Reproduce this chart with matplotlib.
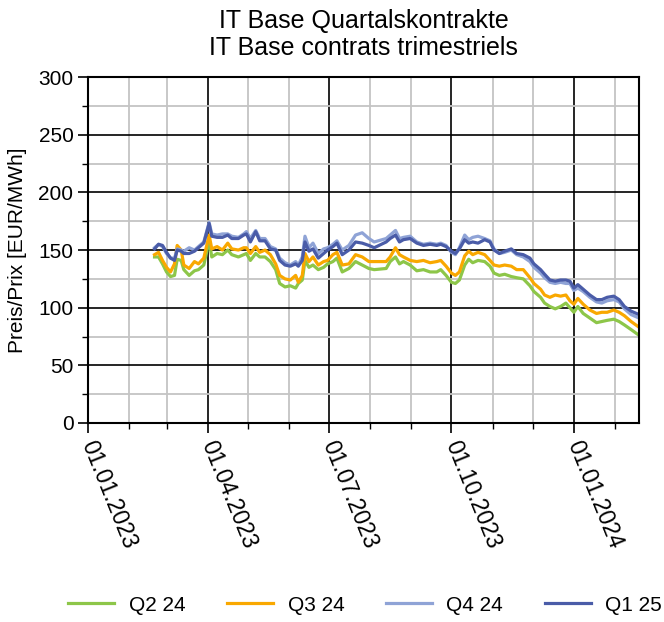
import matplotlib
matplotlib.use('Agg')
import matplotlib.pyplot as plt
import matplotlib.dates as mdates
import matplotlib.transforms as mtransforms
import pandas as pd

plt.rcParams['font.family'] = ['Liberation Sans', 'DejaVu Sans']

# trading dates (roughly twice a week)
dates = ['2023-02-20', '2023-02-23', '2023-02-26', '2023-03-01', '2023-03-04', '2023-03-07',
         '2023-03-09', '2023-03-12', '2023-03-14', '2023-03-18', '2023-03-22', '2023-03-25',
         '2023-03-29', '2023-04-02', '2023-04-04', '2023-04-08', '2023-04-12', '2023-04-16',
         '2023-04-19', '2023-04-24', '2023-04-28', '2023-04-30', '2023-05-03', '2023-05-07',
         '2023-05-10', '2023-05-14', '2023-05-18', '2023-05-22', '2023-05-25', '2023-05-29',
         '2023-06-02', '2023-06-06', '2023-06-08', '2023-06-11', '2023-06-13', '2023-06-16',
         '2023-06-19', '2023-06-23', '2023-06-27', '2023-06-30', '2023-07-04', '2023-07-07',
         '2023-07-11', '2023-07-16', '2023-07-21', '2023-07-26', '2023-07-31', '2023-08-04',
         '2023-08-13', '2023-08-16', '2023-08-20', '2023-08-23', '2023-08-26', '2023-08-31',
         '2023-09-05', '2023-09-10', '2023-09-15', '2023-09-20', '2023-09-23', '2023-09-27',
         '2023-10-01', '2023-10-04', '2023-10-07', '2023-10-11', '2023-10-14', '2023-10-17',
         '2023-10-21', '2023-10-26', '2023-10-30', '2023-11-02', '2023-11-06', '2023-11-10',
         '2023-11-15', '2023-11-19', '2023-11-24', '2023-11-29', '2023-12-02', '2023-12-07',
         '2023-12-10', '2023-12-14', '2023-12-18', '2023-12-22', '2023-12-26', '2023-12-29',
         '2024-01-01', '2024-01-04', '2024-01-08', '2024-01-13', '2024-01-18', '2024-01-22',
         '2024-01-26', '2024-01-31', '2024-02-04', '2024-02-08', '2024-02-13', '2024-02-19']

q2_24 = [144, 144, 138, 131, 127, 128, 142, 141, 133, 128, 132, 133, 137, 158, 144, 147, 146, 150, 146, 144,
         146, 147, 141, 147, 144, 144, 140, 133, 121, 118, 119, 117, 121, 124, 141, 135, 137, 133, 135, 138,
         140, 143, 131, 134, 140, 137, 134, 133,
         134, 140, 144, 138, 140, 137, 132, 133, 131, 131, 133, 128, 122, 121, 124, 137, 142, 139, 141, 140,
         136, 130, 128, 129, 127, 126, 125, 119, 114, 109, 104, 101, 99, 101, 104, 100, 96, 101, 95, 91,
         87, 88, 89, 90, 88, 85, 81, 76]

q3_24 = [146, 148, 141, 135, 131, 138, 154, 150, 137, 134, 140, 138, 143, 163, 151, 153, 150, 156, 151, 150,
         152, 152, 147, 153, 148, 150, 146, 138, 128, 125, 124, 128, 122, 128, 147, 140, 144, 137, 140, 141,
         146, 148, 137, 138, 146, 144, 140, 140,
         140, 144, 152, 146, 144, 141, 140, 141, 139, 140, 141, 136, 130, 128, 131, 145, 149, 146, 148, 146,
         141, 137, 136, 137, 136, 133, 133, 126, 121, 116, 111, 109, 111, 110, 111, 106, 103, 108, 103, 98,
         95, 96, 96, 98, 96, 93, 88, 83]

q4_24 = [152, 155, 153, 147, 143, 143, 151, 150, 149, 152, 150, 153, 157, 174, 164, 163, 164, 164, 162, 161,
         164, 166, 160, 167, 160, 160, 153, 151, 143, 139, 137, 140, 137, 144, 162, 152, 156, 147, 151, 152,
         155, 158, 150, 154, 163, 165, 160, 157,
         160, 163, 167, 160, 161, 162, 157, 155, 156, 155, 156, 154, 148, 146, 152, 163, 159, 161, 162, 160,
         158, 151, 147, 148, 150, 146, 144, 140, 135, 130, 126, 122, 121, 122, 121, 121, 115, 117, 114, 109,
         105, 104, 106, 107, 105, 99, 94, 91]

q1_25 = [151, 155, 154, 148, 143, 141, 150, 149, 147, 147, 149, 152, 156, 173, 162, 161, 161, 163, 160, 160,
         163, 164, 157, 166, 158, 158, 151, 150, 141, 137, 136, 138, 136, 141, 157, 149, 151, 143, 147, 150,
         153, 156, 146, 150, 157, 156, 154, 152,
         157, 160, 163, 157, 159, 160, 156, 154, 155, 154, 155, 153, 149, 147, 151, 159, 156, 157, 156, 159,
         157, 150, 147, 149, 151, 147, 146, 143, 138, 133, 129, 124, 123, 124, 124, 123, 117, 120, 116, 111,
         107, 107, 109, 110, 107, 101, 97, 94]

labels = ['Q2 24', 'Q3 24', 'Q4 24', 'Q1 25']
colors = ['#8dc649', '#f9a800', '#8fa3d6', '#4a5ca8']

x = pd.to_datetime(dates)

fig = plt.figure(figsize=(6.64, 6.22), dpi=100)
ax = fig.add_axes([0.1325, 0.32, 0.830, 0.556])

for series, lab, col in zip([q2_24, q3_24, q4_24, q1_25], labels, colors):
    ax.plot(x, series, color=col, lw=2.3, label=lab, solid_joinstyle='round')

ax.set_xlim(pd.Timestamp('2023-01-01'), pd.Timestamp('2024-02-19'))
ax.set_ylim(0, 300)
ax.set_yticks(range(0, 301, 50))
ax.set_yticks(range(0, 301, 25), minor=True)
ax.xaxis.set_major_locator(mdates.MonthLocator(bymonth=[1, 4, 7, 10]))
ax.xaxis.set_minor_locator(mdates.MonthLocator())
ax.xaxis.set_major_formatter(mdates.DateFormatter('%d.%m.%Y'))

ax.set_axisbelow(True)
ax.grid(which='minor', color='#c4c4c4', lw=1.3)
ax.grid(which='major', color='black', lw=1.2)
for s in ax.spines.values():
    s.set_linewidth(1.5)
ax.tick_params(which='major', length=7, width=1.2, labelsize=15)
ax.tick_params(which='minor', length=4, width=1.0)
ax.tick_params(axis='x', which='major', labelsize=16.5)
# tilted date labels, shifted a little to the left of their tick
shift = mtransforms.ScaledTranslation(-8 / 72, 0, fig.dpi_scale_trans)
for lbl in ax.get_xticklabels():
    lbl.set_rotation(-68)
    lbl.set_ha('left')
    lbl.set_va('top')
    lbl.set_transform(lbl.get_transform() + shift)

ax.set_ylabel('Preis/Prix [EUR/MWh]', fontsize=15, labelpad=8)
ax.set_title('IT Base Quartalskontrakte\nIT Base contrats trimestriels', fontsize=18,
             linespacing=1.15, pad=16)

fig.legend(loc='center', bbox_to_anchor=(0.55, 0.027), ncol=4, frameon=False, fontsize=15,
           handlelength=2.2, columnspacing=2.0, handletextpad=0.7)

fig.savefig('out.png', dpi=100)
